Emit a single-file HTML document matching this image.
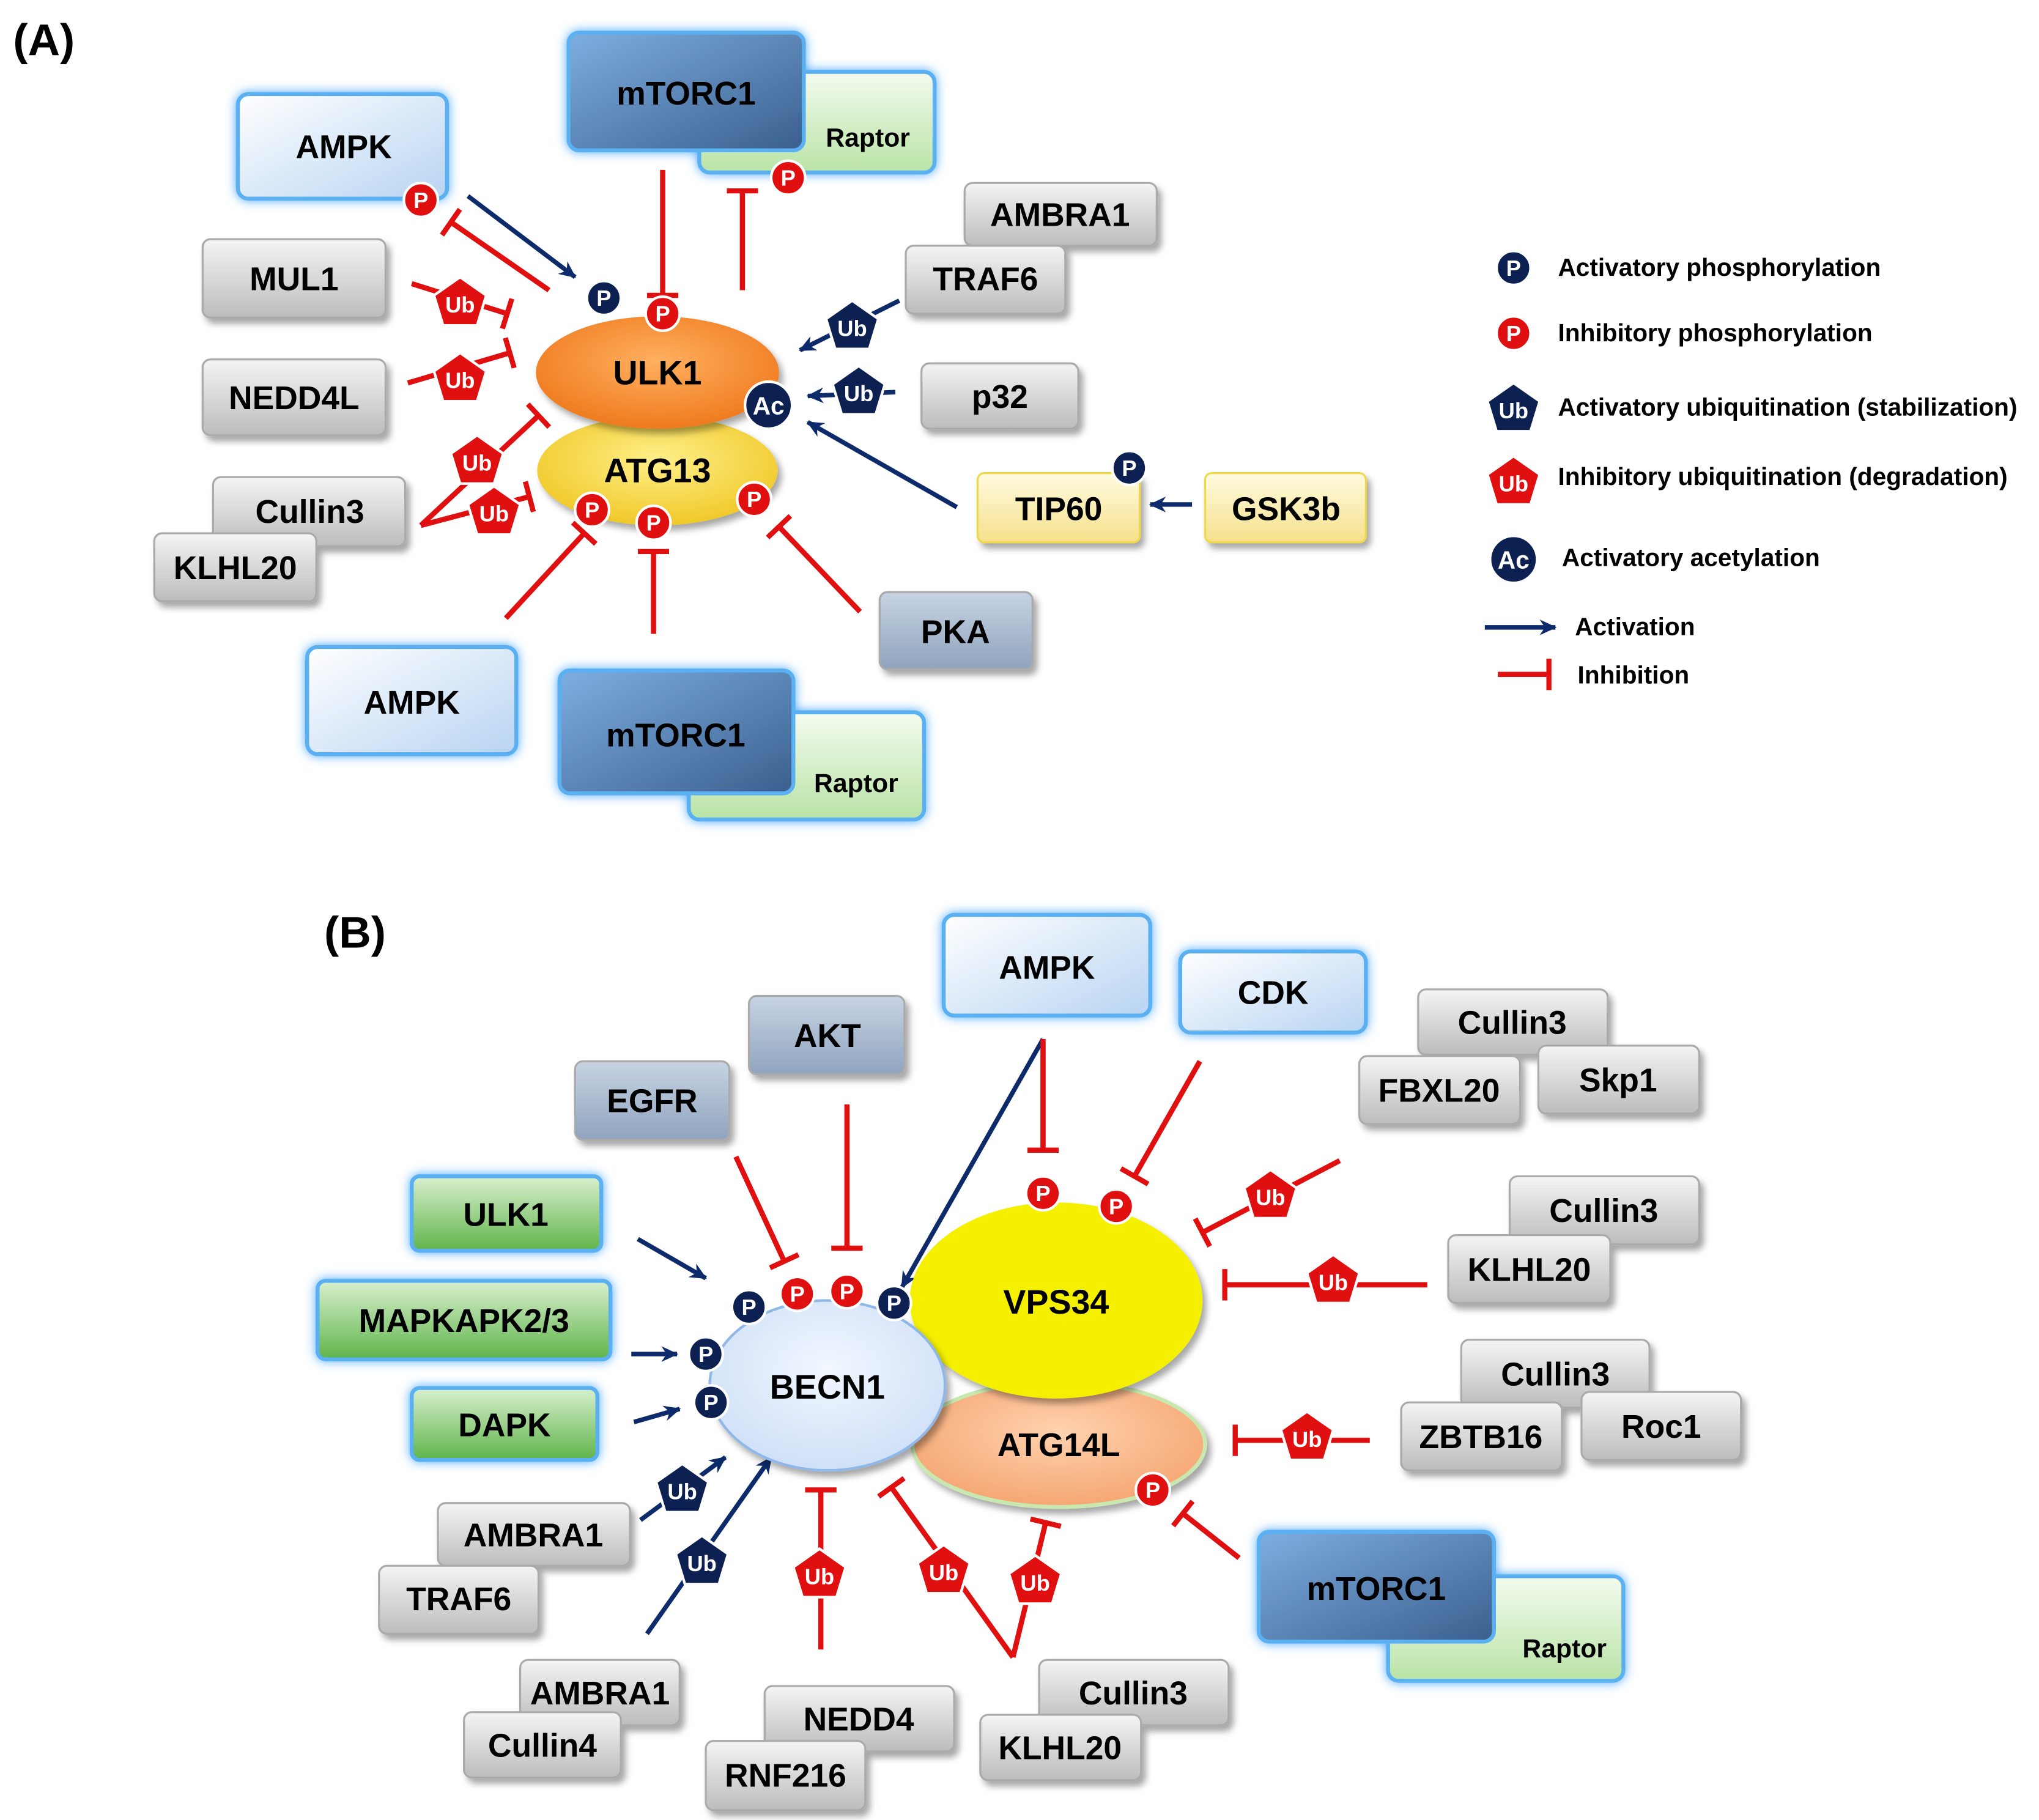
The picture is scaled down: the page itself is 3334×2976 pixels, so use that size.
<!DOCTYPE html>
<html><head><meta charset="utf-8"><style>html,body{margin:0;padding:0;background:#fff}svg{display:block}text{font-family:"Liberation Sans",Arial,sans-serif;font-weight:bold}</style></head><body>
<svg width="3334" height="2976" viewBox="0 0 1560 1392.5" xmlns="http://www.w3.org/2000/svg">
<defs>
<linearGradient id="g" x1="0" y1="0" x2="0" y2="1"><stop offset="0" stop-color="#f4f4f4"/><stop offset="1" stop-color="#bcbcbc"/></linearGradient>
<linearGradient id="lb" x1="0" y1="0" x2="1" y2="1"><stop offset="0" stop-color="#ffffff"/><stop offset="1" stop-color="#b8d4f2"/></linearGradient>
<linearGradient id="bg" x1="0" y1="0" x2="0" y2="1"><stop offset="0" stop-color="#c7d3e2"/><stop offset="1" stop-color="#8fa4be"/></linearGradient>
<linearGradient id="mt" x1="0" y1="0" x2="1" y2="1"><stop offset="0" stop-color="#7eaee0"/><stop offset="1" stop-color="#3a5f8e"/></linearGradient>
<linearGradient id="rp" x1="0" y1="0" x2="0" y2="1"><stop offset="0" stop-color="#f4fbef"/><stop offset="1" stop-color="#b9e3a6"/></linearGradient>
<linearGradient id="gr" x1="0" y1="0" x2="0" y2="1"><stop offset="0" stop-color="#d9f0cf"/><stop offset="1" stop-color="#5fb44a"/></linearGradient>
<linearGradient id="ye" x1="0" y1="0" x2="0" y2="1"><stop offset="0" stop-color="#fffbe0"/><stop offset="1" stop-color="#f5e08a"/></linearGradient>
<radialGradient id="ulk" cx=".5" cy=".4" r=".6"><stop offset="0" stop-color="#ffb060"/><stop offset="1" stop-color="#ef7a1e"/></radialGradient>
<radialGradient id="atg" cx=".5" cy=".4" r=".6"><stop offset="0" stop-color="#fff08a"/><stop offset="1" stop-color="#f0c828"/></radialGradient>
<radialGradient id="bec" cx=".5" cy=".4" r=".6"><stop offset="0" stop-color="#f2f7ff"/><stop offset="1" stop-color="#cfe0f7"/></radialGradient>
<radialGradient id="atl" cx=".5" cy=".4" r=".6"><stop offset="0" stop-color="#ffd2ae"/><stop offset="1" stop-color="#f5a672"/></radialGradient>
<filter id="sh" x="-20%" y="-20%" width="150%" height="160%"><feDropShadow dx="3" dy="4" stdDeviation="2.5" flood-color="#000" flood-opacity=".35"/></filter>
<filter id="gl" x="-20%" y="-30%" width="140%" height="160%"><feDropShadow dx="0" dy="0" stdDeviation="4" flood-color="#3aa0ff" flood-opacity=".9"/></filter>
<marker id="ar" markerWidth="8" markerHeight="8" refX="7" refY="4" orient="auto" markerUnits="userSpaceOnUse" viewBox="0 0 8 8"><path d="M0,0 L8,4 L0,8 Z" fill="#0d2b6b"/></marker>
<marker id="ah" markerWidth="14" markerHeight="14" refX="12" refY="7" orient="auto" markerUnits="userSpaceOnUse"><path d="M0,1 L13,7 L0,13 L4,7Z" fill="#0d2b6b"/></marker>
<marker id="bar" markerWidth="4" markerHeight="24" refX="2" refY="12" orient="auto" markerUnits="userSpaceOnUse"><rect x="0" y="0" width="4" height="24" fill="#e01010"/></marker>
<g id="pb"><circle r="13" fill="#0d2052" stroke="#fff" stroke-width="2"/><text y="6" text-anchor="middle" font-size="17" fill="#fff">P</text></g>
<g id="pr"><circle r="13" fill="#e01010" stroke="#fff" stroke-width="2"/><text y="6" text-anchor="middle" font-size="17" fill="#fff">P</text></g>
<g id="ur"><path d="M0,-20 L20,-6 L13,17 L-13,17 L-20,-6Z" fill="#e01010" stroke="#fff" stroke-width="2"/><text y="7" text-anchor="middle" font-size="17" fill="#fff">Ub</text></g>
<g id="ub"><path d="M0,-20 L20,-6 L13,17 L-13,17 L-20,-6Z" fill="#0d2052" stroke="#fff" stroke-width="2"/><text y="7" text-anchor="middle" font-size="17" fill="#fff">Ub</text></g>
</defs>
<g fill="none" stroke-width="4">
<!-- A lines -->
<g stroke="#0d2b6b" stroke-width="3.5" marker-end="url(#ah)">
<line x1="358" y1="150" x2="440" y2="212"/><line x1="688" y1="230" x2="612" y2="268"/><line x1="685" y1="300" x2="618" y2="303"/><line x1="732" y1="388" x2="618" y2="323"/><line x1="912" y1="386" x2="880" y2="386"/>
<line x1="1136" y1="480" x2="1190" y2="480"/>
<line x1="798" y1="795" x2="690" y2="985"/><line x1="488" y1="948" x2="540" y2="978"/><line x1="483" y1="1036" x2="518" y2="1036"/><line x1="485" y1="1088" x2="520" y2="1078"/><line x1="490" y1="1163" x2="555" y2="1115"/><line x1="495" y1="1250" x2="590" y2="1115"/>
</g>
<g stroke="#e01010" marker-end="url(#bar)">
<line x1="420" y1="222" x2="345" y2="170"/><line x1="507" y1="130" x2="507" y2="226"/><line x1="568" y1="222" x2="568" y2="146"/><line x1="315" y1="217" x2="388" y2="240"/><line x1="312" y1="293" x2="390" y2="270"/><line x1="322" y1="402" x2="412" y2="318"/><line x1="322" y1="402" x2="405" y2="380"/><line x1="387" y1="473" x2="447" y2="408"/><line x1="500" y1="485" x2="500" y2="422"/><line x1="658" y1="468" x2="596" y2="403"/>
<line x1="1146" y1="516" x2="1185" y2="516"/>
<line x1="798" y1="795" x2="798" y2="880"/><line x1="918" y1="812" x2="868" y2="900"/><line x1="648" y1="845" x2="648" y2="955"/><line x1="563" y1="885" x2="600" y2="965"/><line x1="1025" y1="888" x2="920" y2="943"/><line x1="1092" y1="983" x2="937" y2="983"/><line x1="1048" y1="1102" x2="945" y2="1102"/><line x1="948" y1="1192" x2="905" y2="1158"/><line x1="628" y1="1262" x2="628" y2="1140"/><line x1="775" y1="1268" x2="682" y2="1138"/><line x1="775" y1="1268" x2="800" y2="1165"/>
</g>
</g>
<text x="10" y="42" font-size="34">(A)</text>
<text x="248" y="725" font-size="34">(B)</text>
<!-- ellipses A -->
<ellipse cx="503" cy="360" rx="92" ry="42" fill="url(#atg)" filter="url(#sh)"/><text x="503" y="369" font-size="26" text-anchor="middle">ATG13</text>
<ellipse cx="503" cy="285" rx="93" ry="43" fill="url(#ulk)" filter="url(#sh)"/><text x="503" y="294" font-size="26" text-anchor="middle">ULK1</text>
<!-- boxes A -->
<g filter="url(#sh)" stroke="#aaa" stroke-width="1.5">
<rect x="738" y="140" width="147" height="48" rx="6" fill="url(#g)"/><rect x="693" y="188" width="122" height="52" rx="6" fill="url(#g)"/>
<rect x="155" y="183" width="140" height="60" rx="6" fill="url(#g)"/><rect x="155" y="275" width="140" height="58" rx="6" fill="url(#g)"/>
<rect x="163" y="365" width="147" height="53" rx="6" fill="url(#g)"/><rect x="118" y="408" width="124" height="52" rx="6" fill="url(#g)"/>
<rect x="705" y="278" width="120" height="50" rx="6" fill="url(#g)"/>
<rect x="673" y="453" width="117" height="59" rx="6" fill="url(#bg)"/>
<rect x="748" y="362" width="124" height="53" rx="5" fill="url(#ye)" stroke="#f0d84a"/><rect x="922" y="362" width="123" height="53" rx="5" fill="url(#ye)" stroke="#f0d84a"/>
</g>
<g stroke="#5ab0f0" stroke-width="3" filter="url(#gl)">
<rect x="182" y="72" width="160" height="80" rx="8" fill="url(#lb)"/>
<rect x="535" y="55" width="180" height="77" rx="8" fill="url(#rp)"/><rect x="435" y="25" width="180" height="90" rx="8" fill="url(#mt)"/>
<rect x="235" y="495" width="160" height="82" rx="8" fill="url(#lb)"/>
<rect x="527" y="545" width="180" height="82" rx="8" fill="url(#rp)"/><rect x="428" y="513" width="179" height="94" rx="8" fill="url(#mt)"/>
</g>
<g font-size="25" text-anchor="middle">
<text x="263" y="121">AMPK</text><text x="525" y="80">mTORC1</text><text x="664" y="112" font-size="20">Raptor</text>
<text x="811" y="173">AMBRA1</text><text x="754" y="222">TRAF6</text><text x="225" y="222">MUL1</text><text x="225" y="313">NEDD4L</text>
<text x="237" y="400">Cullin3</text><text x="180" y="443">KLHL20</text><text x="765" y="312">p32</text><text x="731" y="492">PKA</text>
<text x="810" y="398">TIP60</text><text x="984" y="398">GSK3b</text><text x="315" y="546">AMPK</text><text x="517" y="571">mTORC1</text><text x="655" y="606" font-size="20">Raptor</text>
</g>
<use href="#pb" x="462" y="228"/><use href="#pr" x="507" y="240"/><use href="#pr" x="603" y="136"/><use href="#pr" x="322" y="153"/>
<circle cx="588" cy="310" r="18" fill="#0d2052" stroke="#fff" stroke-width="2"/><text x="588" y="317" font-size="19" fill="#fff" text-anchor="middle">Ac</text>
<use href="#pb" x="864" y="358"/><use href="#pr" x="453" y="390"/><use href="#pr" x="500" y="400"/><use href="#pr" x="577" y="382"/>
<use href="#ur" x="352" y="232"/><use href="#ur" x="352" y="290"/><use href="#ur" x="365" y="353"/><use href="#ur" x="378" y="392"/>
<use href="#ub" x="652" y="250"/><use href="#ub" x="657" y="300"/>
<!-- legend -->
<use href="#pb" x="1158" y="205"/><use href="#pr" x="1158" y="255"/><use href="#ub" x="1158" y="313"/><use href="#ur" x="1158" y="369"/>
<circle cx="1158" cy="428" r="18" fill="#0d2052" stroke="#fff" stroke-width="2"/><text x="1158" y="435" font-size="19" fill="#fff" text-anchor="middle">Ac</text>
<g font-size="19"><text x="1192" y="211">Activatory phosphorylation</text><text x="1192" y="261">Inhibitory phosphorylation</text><text x="1192" y="318">Activatory ubiquitination (stabilization)</text><text x="1192" y="371">Inhibitory ubiquitination (degradation)</text><text x="1195" y="433">Activatory acetylation</text><text x="1205" y="486">Activation</text><text x="1207" y="523">Inhibition</text></g>
<!-- B ellipses -->
<ellipse cx="810" cy="1105" rx="112" ry="48" fill="url(#atl)" stroke="#c8e8b0" stroke-width="3" filter="url(#sh)"/><text x="810" y="1114" font-size="25" text-anchor="middle">ATG14L</text>
<ellipse cx="808" cy="995" rx="112" ry="75" fill="#f5f000" filter="url(#sh)"/><text x="808" y="1005" font-size="26" text-anchor="middle">VPS34</text>
<ellipse cx="633" cy="1060" rx="90" ry="65" fill="url(#bec)" stroke="#8fb8e8" stroke-width="2" filter="url(#sh)"/><text x="633" y="1070" font-size="26" text-anchor="middle">BECN1</text>
<g filter="url(#sh)" stroke="#aaa" stroke-width="1.5">
<rect x="573" y="762" width="119" height="60" rx="6" fill="url(#bg)"/><rect x="440" y="812" width="118" height="60" rx="6" fill="url(#bg)"/>
<rect x="1085" y="757" width="145" height="50" rx="6" fill="url(#g)"/><rect x="1040" y="808" width="123" height="52" rx="6" fill="url(#g)"/><rect x="1177" y="800" width="123" height="52" rx="6" fill="url(#g)"/>
<rect x="1155" y="900" width="145" height="52" rx="6" fill="url(#g)"/><rect x="1108" y="945" width="124" height="52" rx="6" fill="url(#g)"/>
<rect x="1118" y="1025" width="144" height="52" rx="6" fill="url(#g)"/><rect x="1072" y="1073" width="123" height="52" rx="6" fill="url(#g)"/><rect x="1210" y="1065" width="122" height="52" rx="6" fill="url(#g)"/>
<rect x="335" y="1150" width="147" height="48" rx="6" fill="url(#g)"/><rect x="290" y="1198" width="122" height="52" rx="6" fill="url(#g)"/>
<rect x="398" y="1270" width="122" height="50" rx="6" fill="url(#g)"/><rect x="355" y="1310" width="120" height="50" rx="6" fill="url(#g)"/>
<rect x="585" y="1290" width="145" height="50" rx="6" fill="url(#g)"/><rect x="540" y="1332" width="122" height="53" rx="6" fill="url(#g)"/>
<rect x="795" y="1270" width="145" height="50" rx="6" fill="url(#g)"/><rect x="750" y="1312" width="123" height="50" rx="6" fill="url(#g)"/>
</g>
<g stroke="#5ab0f0" stroke-width="3" filter="url(#gl)">
<rect x="722" y="700" width="158" height="77" rx="8" fill="url(#lb)"/><rect x="903" y="728" width="142" height="62" rx="8" fill="url(#lb)"/>
<rect x="315" y="900" width="145" height="57" rx="6" fill="url(#gr)"/><rect x="243" y="980" width="224" height="60" rx="6" fill="url(#gr)"/><rect x="315" y="1062" width="142" height="55" rx="6" fill="url(#gr)"/>
<rect x="1062" y="1206" width="180" height="80" rx="8" fill="url(#rp)"/><rect x="963" y="1172" width="180" height="84" rx="8" fill="url(#mt)"/>
</g>
<g font-size="25" text-anchor="middle">
<text x="801" y="749">AMPK</text><text x="974" y="768">CDK</text><text x="633" y="801">AKT</text><text x="499" y="851">EGFR</text>
<text x="1157" y="791">Cullin3</text><text x="1101" y="843">FBXL20</text><text x="1238" y="835">Skp1</text>
<text x="1227" y="935">Cullin3</text><text x="1170" y="980">KLHL20</text>
<text x="1190" y="1060">Cullin3</text><text x="1133" y="1108">ZBTB16</text><text x="1271" y="1100">Roc1</text>
<text x="387" y="938">ULK1</text><text x="355" y="1019">MAPKAPK2/3</text><text x="386" y="1099">DAPK</text>
<text x="408" y="1183">AMBRA1</text><text x="351" y="1232">TRAF6</text><text x="459" y="1304">AMBRA1</text><text x="415" y="1344">Cullin4</text>
<text x="657" y="1324">NEDD4</text><text x="601" y="1367">RNF216</text><text x="867" y="1304">Cullin3</text><text x="811" y="1346">KLHL20</text>
<text x="1053" y="1224">mTORC1</text><text x="1197" y="1268" font-size="20">Raptor</text>
</g>
<use href="#pb" x="573" y="1000"/><use href="#pr" x="610" y="990"/><use href="#pr" x="648" y="988"/><use href="#pb" x="684" y="997"/><use href="#pb" x="540" y="1036"/><use href="#pb" x="544" y="1073"/>
<use href="#pr" x="798" y="913"/><use href="#pr" x="854" y="923"/><use href="#pr" x="882" y="1140"/>
<use href="#ub" x="522" y="1140"/><use href="#ub" x="537" y="1195"/>
<use href="#ur" x="972" y="915"/><use href="#ur" x="1020" y="980"/><use href="#ur" x="1000" y="1100"/><use href="#ur" x="627" y="1205"/><use href="#ur" x="722" y="1202"/><use href="#ur" x="792" y="1210"/>
</svg>
</body></html>
